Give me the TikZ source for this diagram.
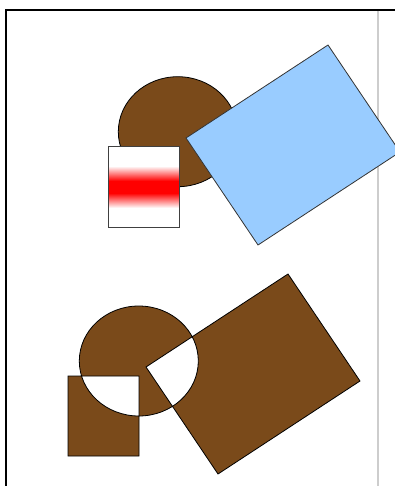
\documentclass[tikz,border=0pt]{standalone}
\usepackage{tikz}
\usepackage{xcolor}

% Degrade blanc-rouge-blanc
\pgfdeclareverticalshading{bandeRouge}{100bp}{%
  rgb(0bp)=(1,1,1); rgb(36.9bp)=(1,1,1); rgb(46.2bp)=(1,0,0);
  rgb(53.8bp)=(1,0,0); rgb(63.1bp)=(1,1,1); rgb(100bp)=(1,1,1)}

\begin{document}
\begin{tikzpicture}[x=1pt,y=-1pt]

% Couleurs
\definecolor{brun}{RGB}{122,74,26}
\definecolor{bleuC}{RGB}{153,204,255}
\definecolor{grisL}{RGB}{205,205,205}

% Cadre
\clip (0,0) rectangle (395,486);
\draw[black,line width=2pt] (5,10) -- (395,10);
\draw[black,line width=2pt] (6,10) -- (6,486);
\draw[grisL,line width=1.5pt] (378,11) -- (378,486);

% Groupe du haut
\coordinate (O1) at (177.8,131.7);
\coordinate (P1) at (108,147);
\coordinate (Q1) at (179,227);
\coordinate (A1) at (186,138);
\coordinate (B1) at (328,45);
\coordinate (C1) at (400,152);
\coordinate (D1) at (258,245);

\filldraw[brun, draw=black, line width=0.8pt] (O1) ellipse [x radius=59.5, y radius=55];
\shade[shading=bandeRouge] (P1) rectangle (Q1);
\draw[black!75, line width=1pt] (P1) rectangle (Q1);
\filldraw[bleuC, draw=black!80, line width=0.8pt] (A1)--(B1)--(C1)--(D1)--cycle;

% Groupe du bas (regle pair-impair)
\coordinate (O2) at (138.8,361);
\coordinate (P2) at (68,376);
\coordinate (Q2) at (139,456);
\coordinate (A2) at (146,367);
\coordinate (B2) at (288,274);
\coordinate (C2) at (360,381);
\coordinate (D2) at (218,474);

\filldraw[brun, draw=black, line width=0.8pt, even odd rule]
  (O2) ellipse [x radius=59.5, y radius=55]
  (P2) rectangle (Q2)
  (A2)--(B2)--(C2)--(D2)--cycle;

\end{tikzpicture}
\end{document}
